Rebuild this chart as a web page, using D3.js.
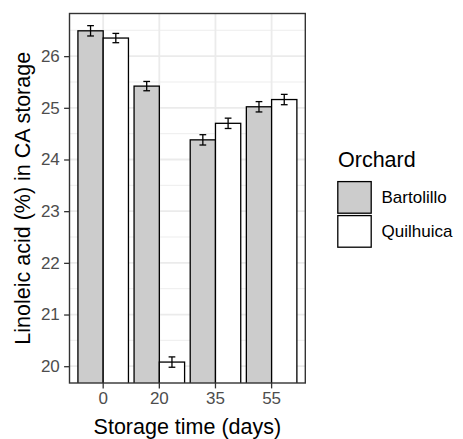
<!DOCTYPE html>
<html lang="en">
<head>
<meta charset="utf-8">
<script src="https://cdn.jsdelivr.net/npm/d3@7"></script>
<style>
  body { margin: 0; background: white; }
  svg { display: block; font-family: "Liberation Sans", Arial, sans-serif; }
  .tick text { fill: #4D4D4D; font-size: 17px; }
</style>
</head>
<body>
<svg id="chart" width="463" height="439"></svg>
<script>
// data
var days = ["0", "20", "35", "55"]
var orchards = ["Bartolillo", "Quilhuica"]
var bartolillo = [26.49, 25.42, 24.38, 25.02]
var quilhuica = [26.35, 20.08, 24.70, 25.16]
var bartolilloErr = [0.10, 0.09, 0.10, 0.10]
var quilhuicaErr = [0.09, 0.10, 0.10, 0.10]
var yTicks = [20, 21, 22, 23, 24, 25, 26]
var yMinor = [20.5, 21.5, 22.5, 23.5, 24.5, 25.5, 26.5]
var yLimits = [19.675, 26.825]
var fills = ["#CCCCCC", "#FFFFFF"]

var rows = []
days.forEach(function(d, i){
  rows.push({day: d, orchard: orchards[0], value: bartolillo[i], err: bartolilloErr[i]})
  rows.push({day: d, orchard: orchards[1], value: quilhuica[i], err: quilhuicaErr[i]})
})

var panel = {left: 69.5, right: 305.3, top: 13.5, bottom: 383}
var svg = d3.select("#chart")

var x = d3.scaleBand().domain(days)
  .range([panel.left, panel.right])
  .paddingInner(0).paddingOuter(0.1)
var step = x.step()
var xSub = d3.scaleBand().domain(orchards).range([0.05 * step, 0.95 * step])
var y = d3.scaleLinear().domain(yLimits).range([panel.bottom, panel.top])
var fill = d3.scaleOrdinal().domain(orchards).range(fills)

svg.append("clipPath").attr("id", "clip")
  .append("rect")
  .attr("x", panel.left).attr("y", panel.top)
  .attr("width", panel.right - panel.left)
  .attr("height", panel.bottom - panel.top)

// grid
var grid = svg.append("g").attr("clip-path", "url(#clip)")
grid.selectAll(".minor").data(yMinor).enter().append("line")
  .attr("x1", panel.left).attr("x2", panel.right)
  .attr("y1", function(d){ return y(d) }).attr("y2", function(d){ return y(d) })
  .attr("stroke", "#EBEBEB").attr("stroke-width", 0.9)
grid.selectAll(".majorY").data(yTicks).enter().append("line")
  .attr("x1", panel.left).attr("x2", panel.right)
  .attr("y1", function(d){ return y(d) }).attr("y2", function(d){ return y(d) })
  .attr("stroke", "#EBEBEB").attr("stroke-width", 1.8)
grid.selectAll(".majorX").data(days).enter().append("line")
  .attr("x1", function(d){ return x(d) + step / 2 }).attr("x2", function(d){ return x(d) + step / 2 })
  .attr("y1", panel.top).attr("y2", panel.bottom)
  .attr("stroke", "#EBEBEB").attr("stroke-width", 1.8)

// bars, clipped to the panel like coord_cartesian
var bars = svg.append("g").attr("clip-path", "url(#clip)")
bars.selectAll("rect").data(rows).enter().append("rect")
  .attr("x", function(d){ return x(d.day) + xSub(d.orchard) })
  .attr("width", xSub.bandwidth())
  .attr("y", function(d){ return y(d.value) })
  .attr("height", function(d){ return panel.bottom + 5 - y(d.value) })
  .attr("fill", function(d){ return fill(d.orchard) })
  .attr("stroke", "black").attr("stroke-width", 1.3)

// error bars
var half = 0.06 * step
var eb = svg.append("g").attr("stroke", "black").attr("stroke-width", 1.3)
rows.forEach(function(d){
  var cx = x(d.day) + xSub(d.orchard) + xSub.bandwidth() / 2
  var y0 = y(d.value - d.err), y1 = y(d.value + d.err)
  eb.append("line").attr("x1", cx).attr("x2", cx).attr("y1", y0).attr("y2", y1)
  eb.append("line").attr("x1", cx - half).attr("x2", cx + half).attr("y1", y0).attr("y2", y0)
  eb.append("line").attr("x1", cx - half).attr("x2", cx + half).attr("y1", y1).attr("y2", y1)
})

// panel border
svg.append("rect")
  .attr("x", panel.left).attr("y", panel.top)
  .attr("width", panel.right - panel.left)
  .attr("height", panel.bottom - panel.top)
  .attr("fill", "none").attr("stroke", "#333333").attr("stroke-width", 1.4)

// axes
var xAxis = d3.axisBottom(x).tickSize(5.4).tickPadding(4)
svg.append("g").attr("transform", "translate(0," + panel.bottom + ")").call(xAxis)
  .call(function(g){ g.select(".domain").remove() })
  .call(function(g){ g.selectAll(".tick line").attr("stroke", "#333333").attr("stroke-width", 1.3) })

var yAxis = d3.axisLeft(y).tickValues(yTicks).tickSize(5.4).tickPadding(4.3)
svg.append("g").attr("transform", "translate(" + panel.left + ",0)").call(yAxis)
  .call(function(g){ g.select(".domain").remove() })
  .call(function(g){ g.selectAll(".tick line").attr("stroke", "#333333").attr("stroke-width", 1.3) })

svg.selectAll(".tick text").attr("font-family", null).attr("font-size", null)

// titles
svg.append("text")
  .attr("x", (panel.left + panel.right) / 2).attr("y", 434)
  .attr("text-anchor", "middle").attr("font-size", "21.5px").attr("fill", "black")
  .text("Storage time (days)")

svg.append("text")
  .attr("transform", "translate(29.5," + (panel.top + panel.bottom) / 2 + ") rotate(-90)")
  .attr("text-anchor", "middle").attr("font-size", "21.5px").attr("fill", "black")
  .text("Linoleic acid (%) in CA storage")

// legend
var legend = svg.append("g").attr("transform", "translate(337,146)")
legend.append("text").attr("x", 1).attr("y", 20.5)
  .attr("font-size", "21.5px").text("Orchard")
var keys = legend.selectAll(".key").data(orchards).enter().append("g")
  .attr("transform", function(d, i){ return "translate(0," + (34 + i * 34) + ")" })
keys.append("rect")
  .attr("x", 0.8).attr("y", 1.6).attr("width", 33.4).attr("height", 31.6)
  .attr("fill", function(d){ return fill(d) })
  .attr("stroke", "black").attr("stroke-width", 1.3)
keys.append("text").attr("x", 44.5).attr("y", 17.4).attr("dy", "0.35em")
  .attr("font-size", "17px").attr("fill", "black")
  .text(function(d){ return d })
</script>
</body>
</html>
